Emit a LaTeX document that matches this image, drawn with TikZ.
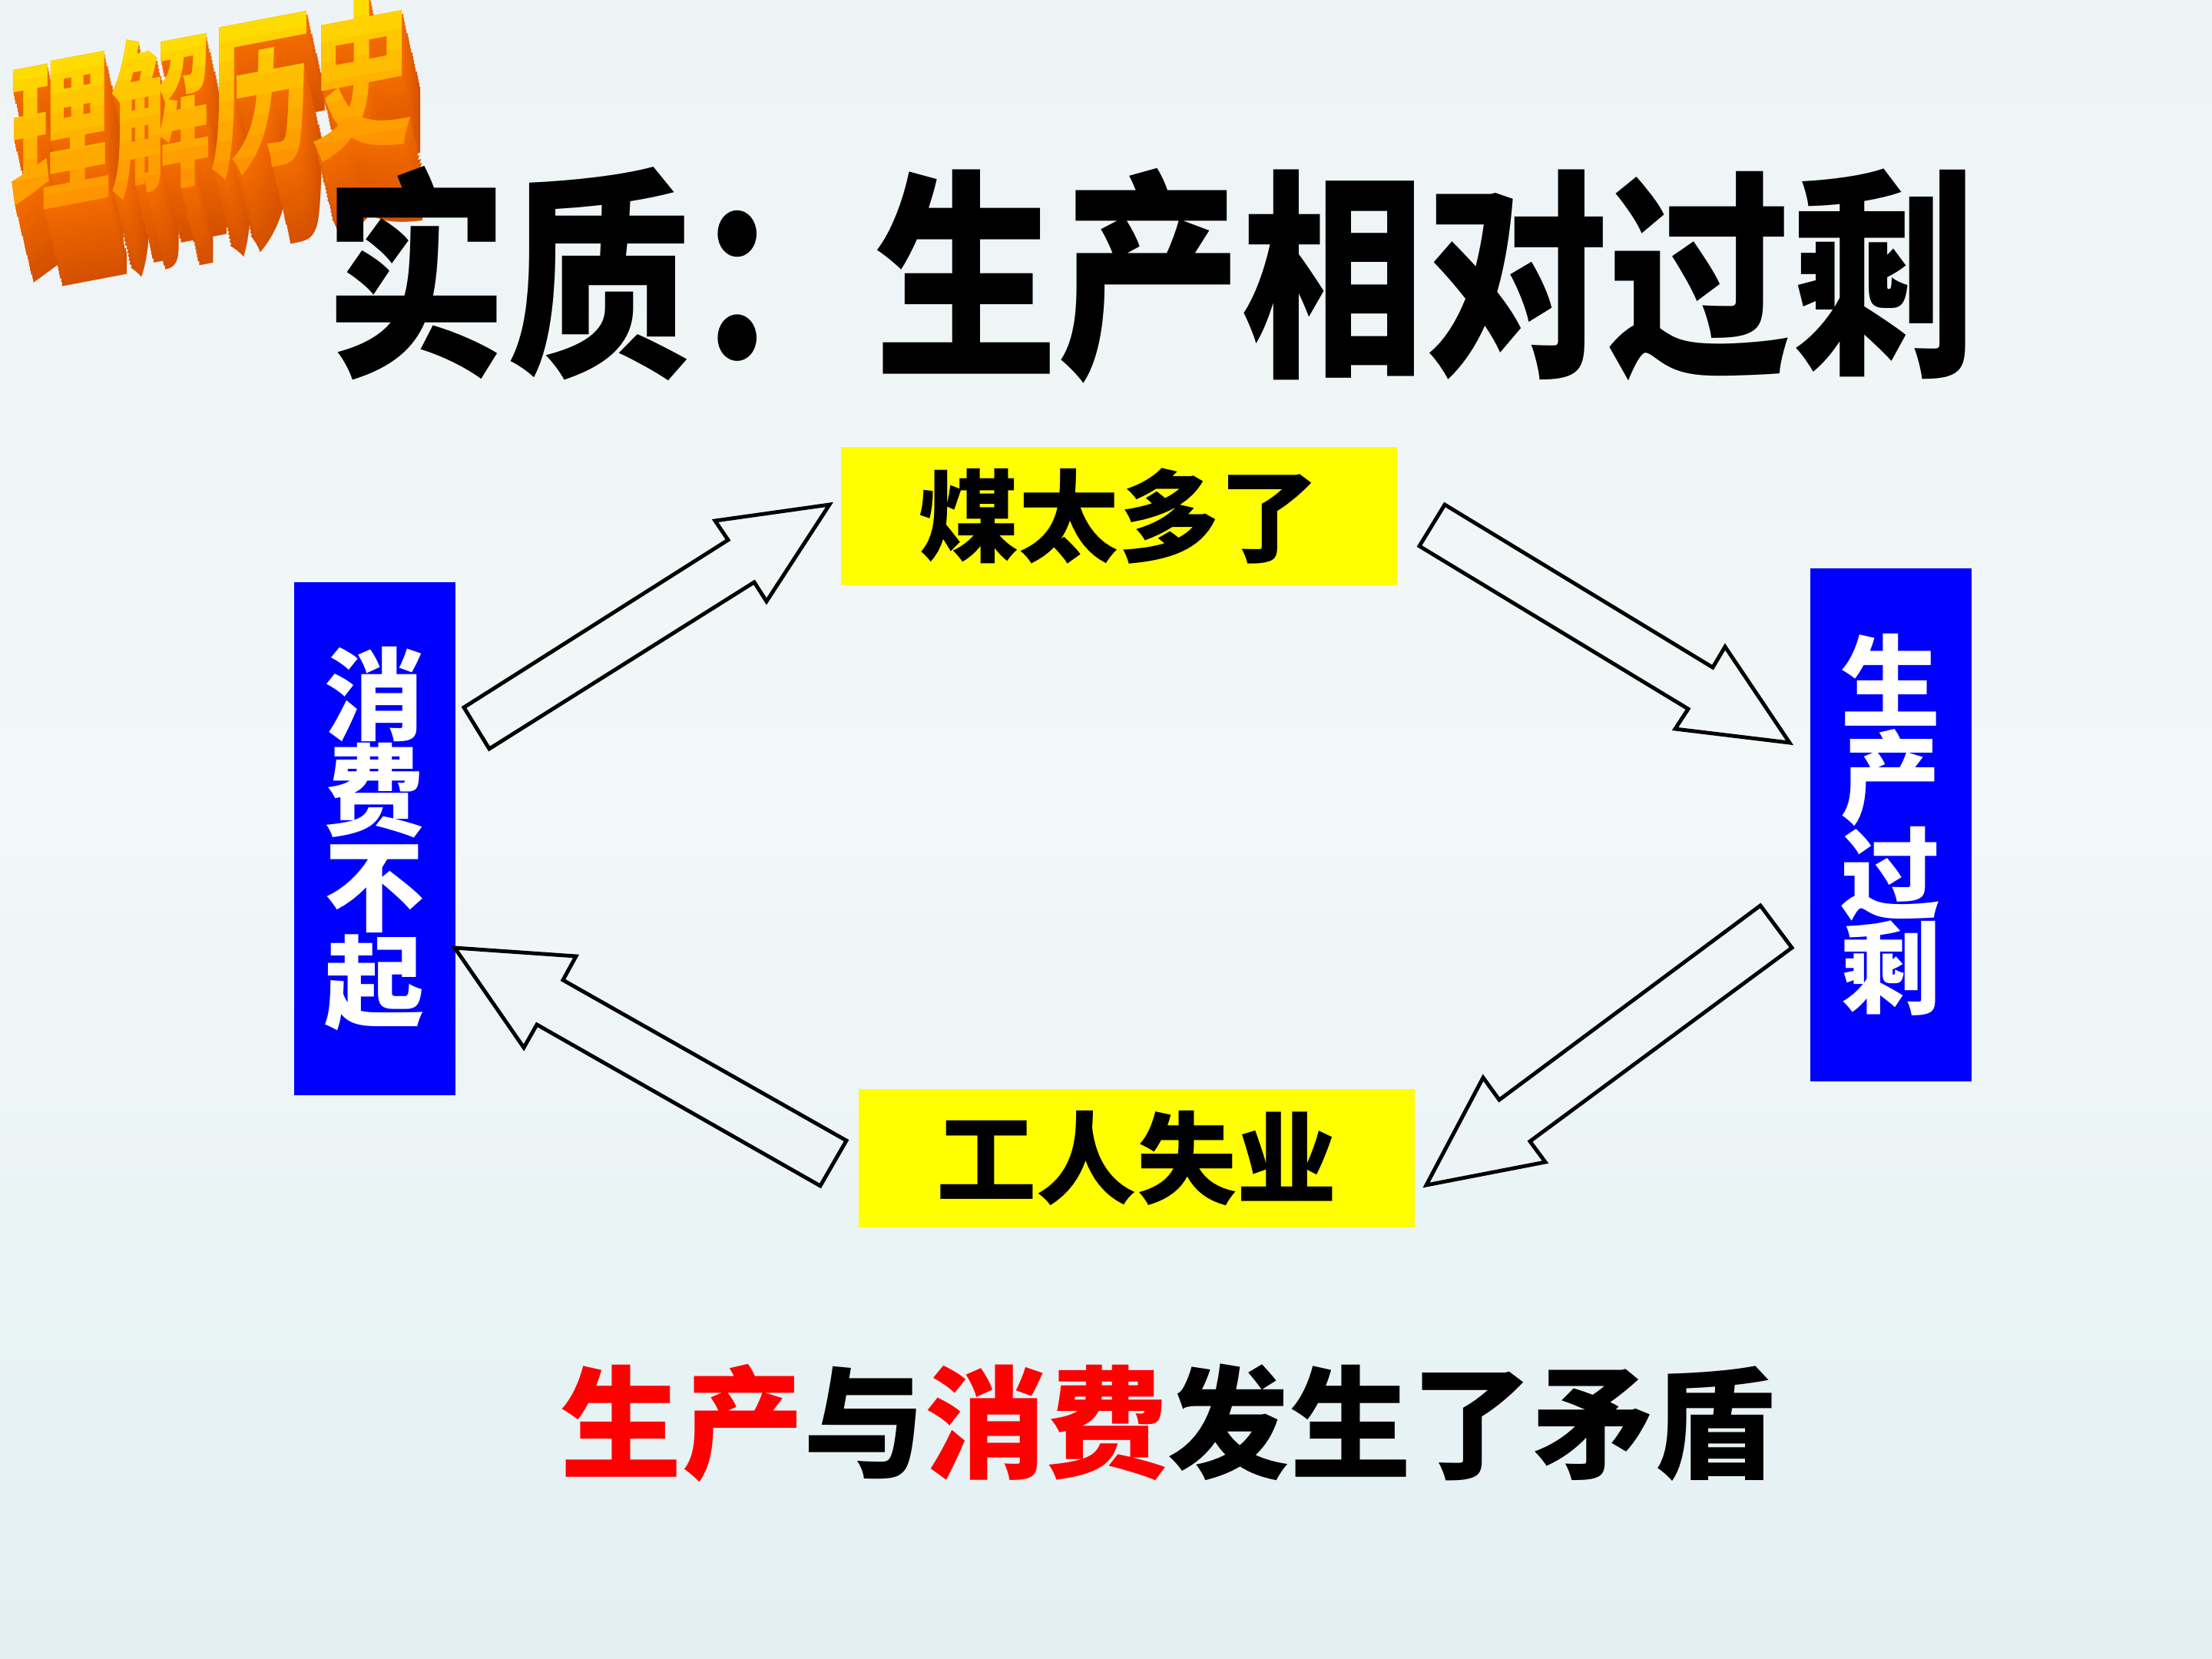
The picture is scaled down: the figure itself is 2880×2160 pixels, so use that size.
\documentclass[tikz,border=0pt]{standalone}
\usepackage{fontspec}
\newfontfamily\cjk{Noto Sans CJK SC}
\definecolor{bgtop}{HTML}{EEF3F5}
\definecolor{bgmid}{HTML}{F2F7F8}
\definecolor{bgbot}{HTML}{E2F0F2}
\definecolor{boxyellow}{HTML}{FFFF00}
\definecolor{boxblue}{HTML}{0000FF}
\definecolor{txtred}{HTML}{FF0000}
\definecolor{extfar}{HTML}{D45000}
\definecolor{extnear}{HTML}{F26A00}
\definecolor{logotop}{HTML}{FFE600}
\definecolor{logobot}{HTML}{FF8A00}
\tikzset{
  ybox/.style={fill=boxyellow, draw=none, inner sep=0pt, minimum width=7.24cm, minimum height=1.80cm,
    font=\cjk\bfseries\fontsize{37}{37}\selectfont},
  bbox/.style={fill=boxblue, draw=none, inner sep=0pt, minimum width=2.09cm, minimum height=6.67cm,
    text=white, align=center, font=\cjk\bfseries\fontsize{37}{35.5}\selectfont},
  blockarrow/.style={draw=black, line width=1.4pt, line join=miter, fill=none},
  logotext/.style={inner sep=0pt, yslant=0.19, font=\cjk\bfseries\fontsize{62}{62}\selectfont}
}
\newcommand{\logoword}{\scalebox{0.6}[1]{理解历史}}
\begin{document}
\begin{tikzpicture}[x=0.01cm,y=-0.01cm]
  % background
  \useasboundingbox (0,0) rectangle (2880,2160);
  \shade[top color=bgtop, bottom color=bgbot, middle color=bgmid] (0,0) rectangle (2880,2160);

  % 3D logo: extrusion
  \foreach \k in {20,...,1}{
    \pgfmathsetmacro{\mixv}{100*(20-\k)/19}
    \node[logotext, text=extnear!\mixv!extfar] at ({275+1.2*\k},{135+5.0*\k}) {\logoword};
  }
  % 3D logo: face with banded gradient
  \node[logotext, text=logobot] (logo) at (275,135) {\logoword};
  \foreach \i in {0,...,9}{
    \pgfmathsetmacro{\pc}{100-100*\i/9}
    \pgfmathsetmacro{\ta}{-130+26*\i}
    \pgfmathsetmacro{\tb}{-130+26*(\i+1)+1}
    \begin{scope}
      \clip (0,{135+52.25+\ta}) -- (600,{135-61.75+\ta}) -- (600,{135-61.75+\tb}) -- (0,{135+52.25+\tb}) -- cycle;
      \node[logotext, text=logotop!\pc!logobot] at (275,135) {\logoword};
    \end{scope}
  }

  % title
  \node[inner sep=0pt, font=\cjk\bfseries\fontsize{82}{82}\selectfont] (title) at (1497,358)
    {\scalebox{0.828}[1]{实质：生产相对过剩}};

  % boxes
  \node[ybox] (coal) at (1457,672) {煤太多了};
  \node[ybox] (jobless) at (1480,1508) {工人失业};
  \node[bbox] (consume) at (488,1092) {消\\费\\不\\起};
  \node[bbox] (overprod) at (2462,1074) {生\\产\\过\\剩};

  % block arrows
  \draw[blockarrow] (604,921) -- (948,703) -- (931,678) -- (1080,657) -- (998,783) -- (982,758) -- (637,975) -- cycle;
  \draw[blockarrow] (1881,657) -- (2230,869) -- (2246,842) -- (2330,967) -- (2181,949) -- (2198,923) -- (1848,711) -- cycle;
  \draw[blockarrow] (2292,1179) -- (2333,1234) -- (1992,1486) -- (2012,1513) -- (1857,1543) -- (1931,1403) -- (1952,1432) -- cycle;
  \draw[blockarrow] (592,1234) -- (750,1245) -- (733,1276) -- (1102,1485) -- (1068,1544) -- (699,1334) -- (682,1364) -- cycle;

  % bottom statement
  \node[inner sep=0pt, font=\cjk\bfseries\fontsize{45}{45}\selectfont] (statement) at (1521,1853)
    {\textcolor{txtred}{生产}与\textcolor{txtred}{消费}发生了矛盾};
\end{tikzpicture}
\end{document}
